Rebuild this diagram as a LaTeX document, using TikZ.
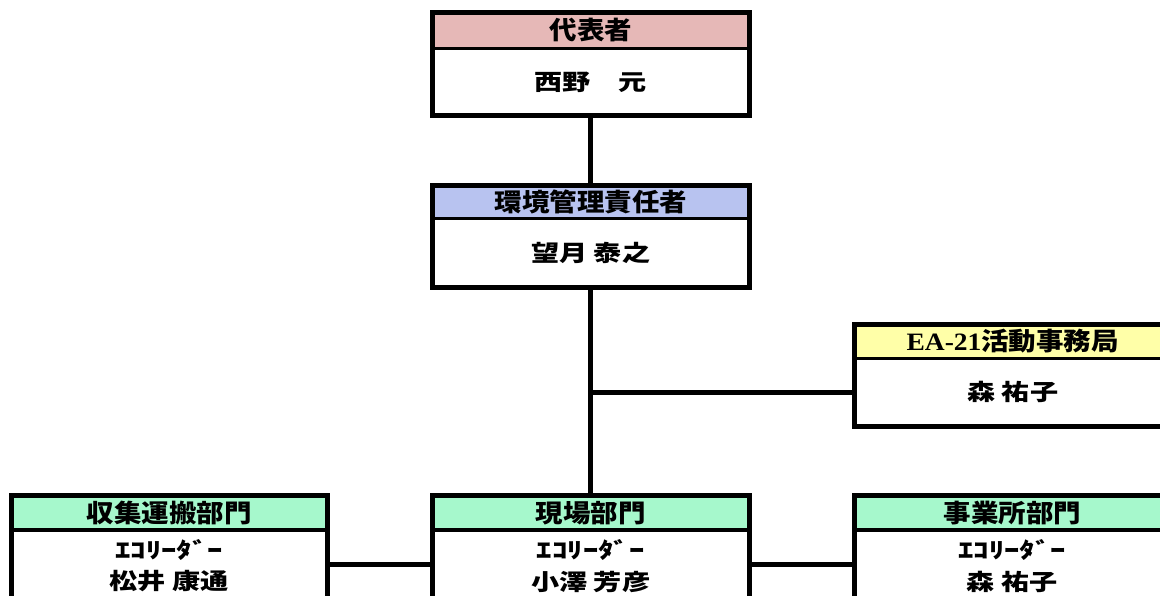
\documentclass[tikz,border=0pt]{standalone}
\usepackage{fontspec}
\newfontfamily\jph{Noto Sans CJK JP}[FakeStretch=1.1]
\newfontfamily\jpn{Noto Sans CJK JP}[FakeStretch=1.25]
\newfontfamily\jpk{Noto Sans CJK JP}[FakeStretch=1.4]
\newfontfamily\latserif{Liberation Serif}[FakeStretch=1.1]
\definecolor{pinkc}{RGB}{230,184,183}
\definecolor{bluec}{RGB}{184,195,240}
\definecolor{yellowc}{RGB}{255,255,168}
\definecolor{greenc}{RGB}{166,248,204}
\tikzset{
  hdr/.style={inner sep=0pt, outer sep=0pt, minimum width=316.5pt, anchor=north west,
    font=\jph\bfseries\fontsize{25}{28}\selectfont, text=black},
  bodyn/.style={inner sep=0pt, outer sep=0pt, minimum width=316.5pt, anchor=north west, fill=white},
  frame/.style={line width=5pt},
  sepl/.style={line width=3.5pt},
  conn/.style={line width=5pt},
  nametxt/.style={font=\jpn\bfseries\fontsize{22.5}{25}\selectfont},
  roletxt/.style={font=\jpk\bfseries\fontsize{22}{24}\selectfont},
}
\begin{document}
\begin{tikzpicture}[x=1pt,y=1pt]
\useasboundingbox (0,0) rectangle (1160,-596);
\clip (0,0) rectangle (1160,-596);

% 代表者
\node[hdr, fill=pinkc, minimum height=36pt] (rep-h) at (432.5,-12.5) {代表者};
\node[bodyn, minimum height=67.5pt, nametxt] (rep-b) at (rep-h.south west) {西野　元};
\draw[frame] (rep-h.north west) rectangle (rep-b.south east);
\draw[sepl] (rep-h.south west) -- (rep-h.south east);

% 環境管理責任者
\node[hdr, fill=bluec, minimum height=33pt] (mgr-h) at (432.5,-185.5) {環境管理責任者};
\node[bodyn, minimum height=69.5pt, nametxt] (mgr-b) at (mgr-h.south west) {望月 泰之};
\draw[frame] (mgr-h.north west) rectangle (mgr-b.south east);
\draw[sepl] (mgr-h.south west) -- (mgr-h.south east);

% EA-21活動事務局
\node[hdr, fill=yellowc, minimum height=34.5pt] (ea-h) at (854.5,-324) {{\latserif EA-21}活動事務局};
\node[bodyn, minimum height=67.5pt, nametxt] (ea-b) at (ea-h.south west) {森 祐子};
\draw[frame] (ea-h.north west) rectangle (ea-b.south east);
\draw[sepl] (ea-h.south west) -- (ea-h.south east);

% 収集運搬部門
\node[hdr, fill=greenc, minimum height=34.5pt] (left-h) at (11,-495.5) {収集運搬部門};
\node[bodyn, minimum height=130pt] (left-b) at (left-h.south west) {};
\draw[frame] (left-h.north west) rectangle (left-b.south east);
\draw[sepl] (left-h.south west) -- (left-h.south east);
\node[roletxt] (left-r) at (169.25,-550) {ｴｺﾘｰﾀﾞｰ};
\node[nametxt] (left-n) at (169.25,-581.5) {松井 康通};

% 現場部門
\node[hdr, fill=greenc, minimum height=34.5pt] (mid-h) at (432.5,-495.5) {現場部門};
\node[bodyn, minimum height=130pt] (mid-b) at (mid-h.south west) {};
\draw[frame] (mid-h.north west) rectangle (mid-b.south east);
\draw[sepl] (mid-h.south west) -- (mid-h.south east);
\node[roletxt] (mid-r) at (590.75,-550) {ｴｺﾘｰﾀﾞｰ};
\node[nametxt] (mid-n) at (590.75,-581.5) {小澤 芳彦};

% 事業所部門
\node[hdr, fill=greenc, minimum height=34.5pt] (right-h) at (854,-495.5) {事業所部門};
\node[bodyn, minimum height=130pt] (right-b) at (right-h.south west) {};
\draw[frame] (right-h.north west) rectangle (right-b.south east);
\draw[sepl] (right-h.south west) -- (right-h.south east);
\node[roletxt] (right-r) at (1012.25,-550) {ｴｺﾘｰﾀﾞｰ};
\node[nametxt] (right-n) at (1012.25,-581.5) {森 祐子};

% connectors
\draw[conn] (rep-b.south) -- (mgr-h.north);
\draw[conn] (mgr-b.south) -- (mid-h.north);
\draw[conn] (mgr-b.south |- ea-b.west) -- (ea-b.west);
\coordinate (bus) at (0,-564);
\draw[conn] (left-b.east |- bus) -- (mid-b.west |- bus);
\draw[conn] (mid-b.east |- bus) -- (right-b.west |- bus);
\end{tikzpicture}
\end{document}
